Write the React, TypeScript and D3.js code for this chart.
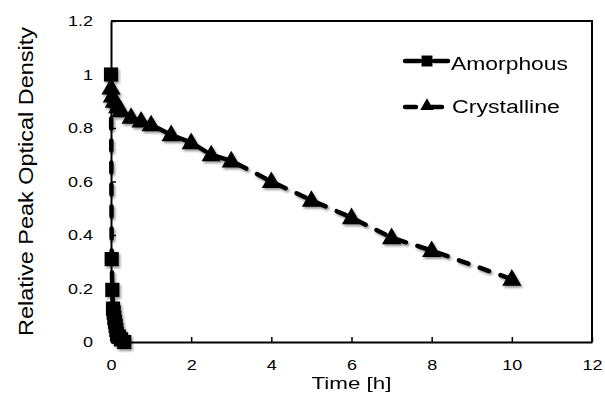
import React, { useEffect, useRef } from "react";
import * as d3 from "d3";

// data
const amorphousTime = [0, 0.017, 0.033, 0.05, 0.067, 0.083, 0.1, 0.117, 0.133, 0.15, 0.2, 0.25, 0.33];
const amorphousOD = [1.0, 0.31, 0.195, 0.125, 0.11, 0.09, 0.075, 0.06, 0.045, 0.03, 0.02, 0.01, 0.0];

const crystallineTime = [0, 0.033, 0.083, 0.167, 0.25, 0.5, 0.75, 1, 1.5, 2, 2.5, 3, 4, 5, 6, 7, 8, 10];
const crystallineOD = [0.95, 0.92, 0.9, 0.88, 0.865, 0.84, 0.826, 0.812, 0.775, 0.745, 0.7, 0.677, 0.6, 0.53, 0.465, 0.39, 0.342, 0.235];

const xTicks = [0, 2, 4, 6, 8, 10, 12];
const yTicks = [0, 0.2, 0.4, 0.6, 0.8, 1, 1.2];

const seriesNames = ["Amorphous", "Crystalline"];

const width = 605;
const height = 396;
const margin = { left: 111, right: 13, top: 21, bottom: 54 };
const font = "'Liberation Sans', Arial, Helvetica, sans-serif";

const App = () => {
  const xAxisRef = useRef(null);
  const yAxisRef = useRef(null);

  const x = d3.scaleLinear().domain([0, 12]).range([margin.left, width - margin.right]);
  const y = d3.scaleLinear().domain([0, 1.2]).range([height - margin.bottom, margin.top]);

  const amorphous = amorphousTime.map((t, i) => [t, amorphousOD[i]]);
  const crystalline = crystallineTime.map((t, i) => [t, crystallineOD[i]]);

  const line = d3
    .line()
    .x((d) => x(d[0]))
    .y((d) => y(d[1]));

  const square = d3.symbol().type(d3.symbolSquare).size(200)();
  const triangle = d3.symbol().type(d3.symbolTriangle).size(160)();
  const squareSmall = d3.symbol().type(d3.symbolSquare).size(120)();
  const triangleSmall = d3.symbol().type(d3.symbolTriangle).size(80)();

  useEffect(() => {
    const fmt = (d) => String(+(+d).toFixed(1));
    const stretch = (sel) => {
      sel.selectAll("text").each(function () {
        const len = this.getComputedTextLength();
        d3.select(this).attr("textLength", len * 1.2).attr("lengthAdjust", "spacingAndGlyphs");
      });
    };

    const gx = d3.select(xAxisRef.current);
    gx.call(
      d3.axisBottom(x).tickValues(xTicks).tickFormat(fmt).tickSizeInner(-5).tickSizeOuter(0).tickPadding(17)
    );
    gx.selectAll("text").attr("font-size", 15).attr("font-family", font).attr("fill", "#000");
    gx.selectAll("line").attr("stroke-width", 1.5);
    gx.select(".domain").attr("stroke-width", 2);
    stretch(gx);

    const gy = d3.select(yAxisRef.current);
    gy.call(
      d3.axisLeft(y).tickValues(yTicks).tickFormat(fmt).tickSizeInner(-5).tickSizeOuter(0).tickPadding(18)
    );
    gy.selectAll("text").attr("font-size", 15).attr("font-family", font).attr("fill", "#000");
    gy.selectAll("line").attr("stroke-width", 1.5);
    gy.select(".domain").attr("stroke-width", 2);
    stretch(gy);
  }, []);

  return (
    <svg
      width={width}
      height={height}
      style={{ position: "absolute", left: 0, top: 0, background: "#fff" }}
    >
      <defs>
        <filter id="shadow" x="-20%" y="-20%" width="140%" height="140%">
          <feDropShadow dx="1.5" dy="2" stdDeviation="1.2" floodColor="#000" floodOpacity="0.4" />
        </filter>
      </defs>

      {/* frame top and right */}
      <path
        d={`M${x(0)},${y(1.2)}H${x(12)}V${y(0)}`}
        fill="none"
        stroke="#000"
        strokeWidth={2}
      />

      <g ref={xAxisRef} transform={`translate(0,${y(0)})`} />
      <g ref={yAxisRef} transform={`translate(${x(0)},0)`} />

      <g filter="url(#shadow)">
        <path
          d={line(amorphous)}
          fill="none"
          stroke="#000"
          strokeWidth={4.5}
          strokeDasharray="10,12"
          strokeLinecap="round"
        />
        {amorphous.map((d, i) => (
          <path key={"a" + i} d={square} transform={`translate(${x(d[0])},${y(d[1])})`} fill="#000" />
        ))}
        <path
          d={line(crystalline)}
          fill="none"
          stroke="#000"
          strokeWidth={4.5}
          strokeDasharray="10,12"
          strokeLinecap="round"
        />
        {crystalline.map((d, i) => (
          <path key={"c" + i} d={triangle} transform={`translate(${x(d[0])},${y(d[1]) + 1})`} fill="#000" />
        ))}
      </g>

      {/* axis titles */}
      <text
        transform={`translate(33,${(y(0) + y(1.2)) / 2}) rotate(-90)`}
        textAnchor="middle"
        fontSize={21}
        fontFamily={font}
        textLength={309}
        lengthAdjust="spacingAndGlyphs"
      >
        Relative Peak Optical Density
      </text>
      <text
        x={(x(0) + x(12)) / 2}
        y={389}
        textAnchor="middle"
        fontSize={17}
        fontFamily={font}
        textLength={80}
        lengthAdjust="spacingAndGlyphs"
      >
        Time [h]
      </text>

      {/* legend */}
      <g>
        <line x1={405} x2={420} y1={61} y2={61} stroke="#000" strokeWidth={4.5} strokeLinecap="round" />
        <line x1={434} x2={448} y1={61} y2={61} stroke="#000" strokeWidth={4.5} strokeLinecap="round" />
        <path d={squareSmall} transform="translate(427,61)" fill="#000" />
        <text x={451} y={70} fontSize={18} fontFamily={font} textLength={117} lengthAdjust="spacingAndGlyphs">
          {seriesNames[0]}
        </text>

        <line x1={405} x2={416} y1={107} y2={107} stroke="#000" strokeWidth={4.5} strokeLinecap="round" />
        <line x1={430} x2={442} y1={107} y2={107} stroke="#000" strokeWidth={4.5} strokeLinecap="round" />
        <path d={triangleSmall} transform="translate(427,106)" fill="#000" />
        <text x={452} y={113} fontSize={18} fontFamily={font} textLength={108} lengthAdjust="spacingAndGlyphs">
          {seriesNames[1]}
        </text>
      </g>
    </svg>
  );
};

export default App;
